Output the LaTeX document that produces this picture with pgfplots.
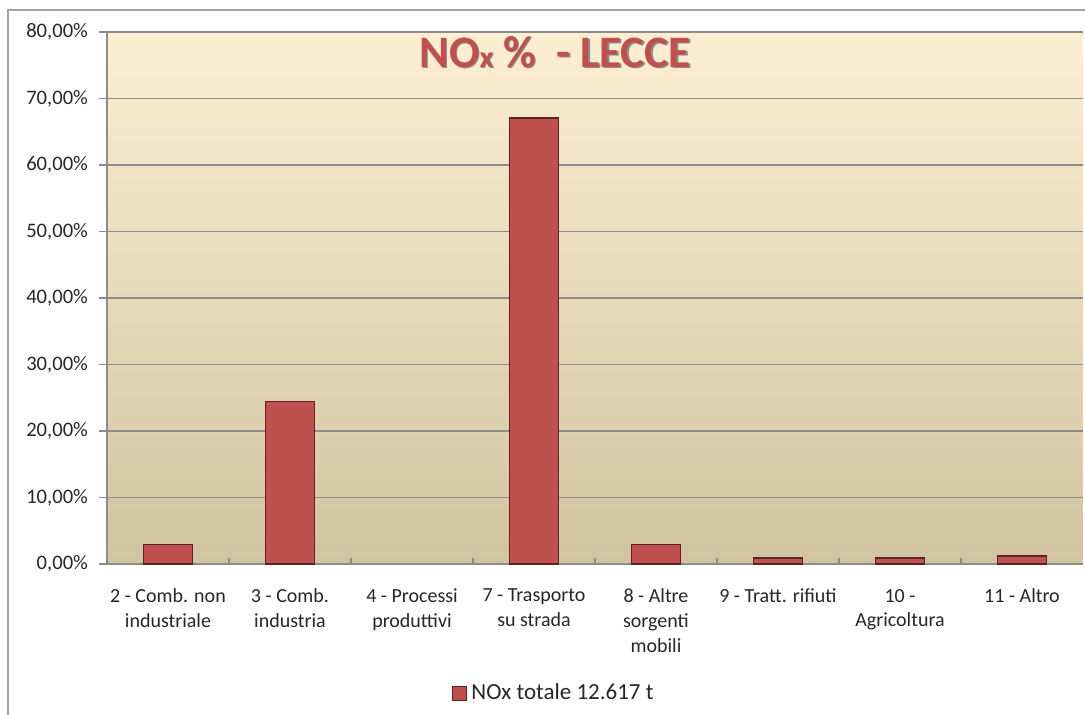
\documentclass[border=0pt]{standalone}
\usepackage{pgfplots}
\pgfplotsset{compat=1.18}
\usepackage{fontspec}
\setmainfont{Carlito}
\definecolor{barred}{HTML}{C0504D}
\definecolor{baredge}{HTML}{5A2422}
\definecolor{bgtop}{HTML}{FDEED2}
\definecolor{bgbot}{HTML}{D2C4A0}
\definecolor{gridc}{HTML}{8C8C8C}
\definecolor{txt}{HTML}{262626}
\begin{document}
\begin{tikzpicture}
\path[use as bounding box] (0pt,0pt) rectangle (542.5pt,357.5pt);
\draw[gridc!80, line width=0.6pt] (4pt,0pt) -- (4pt,352.5pt) -- (542.5pt,352.5pt);
\begin{axis}[
  at={(53.5pt,75.5pt)}, anchor=south west,
  scale only axis, width=488pt, height=266pt,
  xmin=-0.5, xmax=7.5, ymin=0, ymax=80,
  axis background/.style={top color=bgtop, bottom color=bgbot},
  axis x line*=bottom, axis y line*=left,
  axis line style={gridc, line width=0.8pt},
  ytick={0,10,...,80},
  yticklabels={{0,00\%},{10,00\%},{20,00\%},{30,00\%},{40,00\%},{50,00\%},{60,00\%},{70,00\%},{80,00\%}},
  ymajorgrids, major y grid style={gridc, line width=0.6pt},
  tick align=inside,
  major tick length=4pt,
  y tick style={gridc, line width=0.6pt, xshift=-4pt},
  xtick={0,...,7},
  major x tick style={draw=none},
  minor xtick={0.5,1.5,...,6.5},
  minor x tick style={gridc, line width=0.6pt, yshift=3pt},
  minor tick length=3pt,
  xticklabels={{2 - Comb. non\\industriale},{3 - Comb.\\industria},{4 - Processi\\produttivi},{7 - Trasporto\\su strada},{8 - Altre\\sorgenti\\mobili},{9 - Tratt. rifiuti},{10 -\\Agricoltura},{11 - Altro}},
  xticklabel style={align=center, font=\fontsize{10}{12.4}\selectfont, text=txt, anchor=north, yshift=-5pt},
  yticklabel style={font=\fontsize{10.3}{12}\selectfont, text=txt, xshift=-6pt},
  ybar, bar width=24.5pt,
  legend style={at={(0.459,-0.2425)}, anchor=center, draw=none, fill=none, font=\fontsize{11.5}{13}\selectfont, text=txt},
  legend image code/.code={\draw[#1, draw=baredge, line width=0.5pt] (0pt,-3.5pt) rectangle (7pt,3.5pt);},
  clip=false,
]
\addplot[fill=barred, draw=baredge, line width=0.6pt] coordinates {
  (0,2.96) (1,24.4) (3,67.07) (4,2.92) (5,0.9) (6,0.9) (7,1.2)
};
\addlegendentry{NOx totale 12.617 t}
\node[text=black!45, font=\bfseries\fontsize{22.5}{26}\selectfont] at (rel axis cs:0.4605,0.960) {NO{\fontsize{15}{18}\selectfont x} \%\ \ - LECCE};
\node[text=barred, font=\bfseries\fontsize{22.5}{26}\selectfont] at (rel axis cs:0.459,0.962) {NO{\fontsize{15}{18}\selectfont x} \%\ \ - LECCE};
\end{axis}
\end{tikzpicture}
\end{document}
